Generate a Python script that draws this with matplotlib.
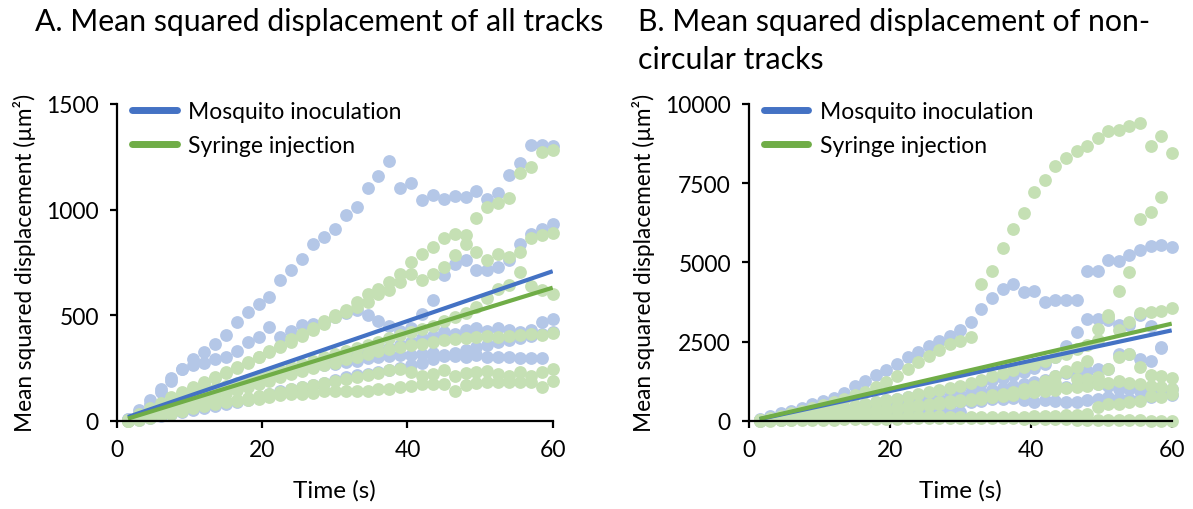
import matplotlib
matplotlib.use("Agg")
import matplotlib.pyplot as plt
import numpy as np

plt.rcParams['font.family'] = ['Lato', 'DejaVu Sans']

# time points (s), one MSD value every 1.5 s
time_s = np.arange(1, 41) * 1.5
nan = np.nan

# ---- panel A: all tracks (um^2) ----
mosq_a = [
    [5, 32, 79, 135, 190, 245, 293, 325, 364, 404, 467, 515, 554, 586, 665, 712, 768, 839, 871, 910,
     973, 1013, 1100, 1160, 1230, 1103, 1128, 1045, 1068, 1050, 1066, 1061, 1086, 1050, 1080, 1162, 1219, 1304, 1304, 1300],
    [10, 50, 100, 150, 200, 245, 265, 275, 290, 300, 332, 372, 396, 443, 396, 427, 451, 459, 467, 491,
     510, 522, 500, 470, 450, 425, 440, 505, 570, 689, 744, 760, 712, 712, 730, 760, 839, 886, 910, 934],
    [8, 25, 40, 55, 70, 85, 100, 115, 130, 150, 160, 175, 190, 205, 215, 230, 245, 255, 270, 290,
     300, 310, 320, 335, 345, 360, 375, 390, 400, 420, 410, 430, 440, 425, 440, 430, 420, 428, 467, 483],
    [5, 15, 30, 50, 70, 90, 105, 120, 135, 150, 165, 180, 190, 205, 220, 230, 245, 255, 262, 270,
     278, 285, 295, 300, 305, 310, 310, 315, 320, 310, 305, 300, 310, 300, 301, 300, 296, 298, 296, nan],
    [0, 5, 12, 20, 30, 40, 50, 60, 70, 80, 90, 100, 110, 125, 140, 150, 160, 170, 180, 195,
     205, 215, 222, 230, 240, 250, 262, 275, 290, 305, 320, 335, 350, 360, 375, 380, 390, 400, 410, 420],
]
syr_a = [
    [5, 30, 60, 85, 110, 135, 160, 185, 205, 230, 255, 280, 300, 330, 355, 385, 410, 440, 470, 499,
     522, 562, 601, 625, 657, 697, 752, 791, 823, 863, 886, 879, 960, 1013, 1029, 1053, 1171, 1203, 1274, 1282],
    [3, 25, 50, 75, 100, 125, 150, 175, 200, 225, 250, 275, 300, 325, 350, 375, 400, 430, 460, 490,
     515, 540, 562, 601, 617, 657, 697, 665, 697, 728, 783, 839, 800, 760, 790, 776, 800, 863, 879, 887],
    [0, 15, 35, 55, 75, 95, 115, 135, 150, 165, 180, 195, 210, 225, 240, 255, 270, 285, 300, 315,
     330, 345, 360, 375, 390, 405, 420, 435, 450, 470, 490, 510, 540, 580, 625, 641, 705, 640, 620, 601],
    [0, 10, 25, 40, 55, 70, 85, 100, 115, 130, 145, 160, 175, 190, 205, 220, 235, 250, 262, 275,
     290, 300, 315, 330, 340, 350, 360, 365, 375, 380, 385, 390, 395, 400, 395, 400, 405, 410, 405, 416],
    [0, 5, 15, 25, 32, 48, 64, 79, 90, 95, 95, 100, 103, 110, 120, 127, 127, 133, 143, 140,
     140, 143, 143, 150, 150, 158, 166, 174, 174, 174, 143, 170, 180, 182, 185, 182, 182, 182, 158, 190],
    [0, 8, 18, 28, 38, 48, 58, 68, 78, 88, 98, 108, 118, 128, 138, 148, 158, 168, 178, 188,
     198, 208, 218, 228, 240, 245, 230, 214, 222, 238, 214, 225, 230, 235, 220, 214, 230, 214, 230, 245],
]

# ---- panel B: non-circular tracks (um^2) ----
mosq_b = [
    [60, 150, 230, 300, 400, 520, 620, 720, 880, 1080, 1240, 1450, 1600, 1795, 2000, 2165, 2360, 2520, 2680, 2850,
     3114, 3513, 3874, 4168, 4327, 4064, 4096, 3747, 3798, 3798, 3798, 4716, 4716, 5064, 5030, 5222, 5380, 5519, 5538, 5487],
    [20, 60, 110, 160, 210, 260, 310, 360, 410, 460, 520, 580, 640, 700, 760, 820, 880, 940, 1000, 1060,
     1130, 1200, 1280, 1360, 1450, 1550, 1650, 1800, 2000, 2350, 2798, 3219, 3219, 3166, 3008, 3008, 3323, 3000, 2323, nan],
    [15, 45, 80, 120, 160, 200, 240, 280, 320, 360, 400, 440, 480, 520, 560, 600, 650, 700, 750, 800,
     860, 920, 980, 1040, 1100, 1160, 1220, 1300, 1400, 1500, 1420, 1580, 1636, 1636, 2111, 2111, 1953, 1900, 2290, nan],
    [10, 30, 60, 90, 120, 150, 180, 210, 240, 270, 300, 330, 360, 390, 420, 450, 480, 520, 560, 600,
     640, 680, 720, 760, 800, 850, 900, 950, 1000, 1050, 1100, 1150, 1162, 1108, 1003, 1003, 950, 980, 1003, 1003],
    [5, 20, 35, 50, 70, 90, 110, 130, 150, 170, 190, 215, 245, 275, 316, 316, 330, 370, 330, 266,
     590, 633, 686, 700, 720, 650, 600, 640, 620, 580, 600, 650, 700, 760, 720, 680, 700, 740, 780, 800],
]
syr_b = [
    [30, 90, 160, 240, 320, 410, 500, 600, 700, 810, 920, 1050, 1230, 1424, 1636, 1848, 2050, 2230, 2427, 2532,
     2640, 4327, 4716, 5456, 6067, 6574, 7207, 7596, 8051, 8283, 8514, 8685, 8916, 9147, 9178, 9318, 9390, 8685, 9001, 8441],
    [10, 40, 70, 100, 130, 160, 190, 220, 250, 280, 310, 340, 380, 420, 460, 500, 540, 580, 620, 660,
     700, 750, 800, 850, 900, 1000, 1100, 1250, 1400, 1550, 1700, 1900, 2902, 3272, 4083, 4697, 6384, 6596, 7071, nan],
    [20, 60, 110, 160, 210, 260, 310, 360, 410, 460, 520, 580, 640, 700, 760, 830, 900, 970, 1040, 1110,
     1200, 1300, 1400, 1500, 1600, 1700, 1800, 1900, 2000, 2100, 2250, 2400, 2550, 3323, 2850, 3114, 3409, 3430, 3450, 3557],
    [10, 30, 55, 80, 105, 130, 160, 190, 220, 250, 280, 310, 345, 380, 415, 450, 490, 530, 570, 610,
     660, 710, 760, 820, 880, 950, 1020, 1100, 1180, 1580, 1320, 1320, 1372, 1635, 2005, 2111, 1700, 1450, 1400, 1350],
    [0, 5, 10, 15, 20, 25, 30, 35, 40, 45, 50, 55, 60, 65, 70, 75, 80, 85, 90, 95,
     100, 105, 110, 115, 120, 130, 140, 150, 160, 170, 180, 200, 424, 528, 528, 580, 633, 790, 740, 845],
    [0, 10, 20, 30, 40, 50, 60, 70, 80, 90, 100, 110, 120, 130, 140, 150, 150, 140, 130, 120,
     110, 100, 90, 80, 70, 60, 50, 50, 40, 40, 30, 30, 20, 20, 10, 10, 10, 5, 5, 0],
    [10, 30, 55, 80, 110, 140, 170, 200, 230, 260, 290, 320, 350, 380, 420, 460, 500, 540, 580, 620,
     660, 700, 740, 780, 820, 860, 900, 940, 980, 1020, 1060, 1100, 1150, 1200, 1250, 1200, 1150, 1100, 1050, 1000],
]

# linear trendlines: (slope, intercept)
trend_a = {"Mosquito inoculation": (11.8, 0.0), "Syringe injection": (10.6, -6.0)}
trend_b = {"Mosquito inoculation": (47.9, -22.0), "Syringe injection": (51.4, -20.0)}

C_MOSQ_DOT = "#B4C7E7"
C_SYR_DOT = "#C5E0B4"
C_MOSQ = "#4472C4"
C_SYR = "#70AD47"

fig = plt.figure(figsize=(11.93, 5.10), dpi=100)
W, H = 1193, 510
axA = fig.add_axes([117 / W, (H - 421.7) / H, 435.7 / W, 316.7 / H])
axB = fig.add_axes([749 / W, (H - 421.7) / H, 422.7 / W, 316.7 / H])


def draw(ax, mosq, syr, trend, ymax, yticks):
    for tr in mosq:
        ax.scatter(time_s, tr, s=85, color=C_MOSQ_DOT, linewidths=0, zorder=2, clip_on=False)
    for tr in syr:
        ax.scatter(time_s, tr, s=85, color=C_SYR_DOT, linewidths=0, zorder=3, clip_on=False)
    tt = np.array([1.5, 60.0])
    for name, col in [("Mosquito inoculation", C_MOSQ), ("Syringe injection", C_SYR)]:
        m, b = trend[name]
        ax.plot(tt, m * tt + b, color=col, lw=3, zorder=4, label=name,
                solid_capstyle='butt')
    ax.set_xlim(0, 60)
    ax.set_ylim(0, ymax)
    ax.set_xticks([0, 20, 40, 60])
    ax.set_yticks(yticks)
    for s in ["top", "right"]:
        ax.spines[s].set_visible(False)
    for s in ["left", "bottom"]:
        ax.spines[s].set_linewidth(1.6)
        ax.spines[s].set_color("black")
        ax.spines[s].set_zorder(5)
    ax.tick_params(direction="out", length=5, width=1.6, labelsize=16.5, pad=8)
    ax.set_xlabel("Time (s)", fontsize=17.5, labelpad=14)
    ax.set_ylabel("Mean squared displacement (\u00b5m\u00b2)", fontsize=16.3, labelpad=7)
    leg = ax.legend(loc="upper left", bbox_to_anchor=(0.035, 1.008), frameon=False,
                    fontsize=16.5, handlelength=1.95, handletextpad=0.5,
                    labelspacing=0.55, borderpad=0, borderaxespad=0)
    for ln in leg.get_lines():
        ln.set_linewidth(5)
        ln.set_solid_capstyle('round')


draw(axA, mosq_a, syr_a, trend_a, 1500, [0, 500, 1000, 1500])
draw(axB, mosq_b, syr_b, trend_b, 10000, [0, 2500, 5000, 7500, 10000])

fig.text(35 / W, 1 - 22 / H, "A. Mean squared displacement of all tracks",
         fontsize=21.8, va="center", ha="left")
fig.text(638 / W, 1 - 22 / H, "B. Mean squared displacement of non-",
         fontsize=21.8, va="center", ha="left")
fig.text(638 / W, 1 - 60 / H, "circular tracks",
         fontsize=21.8, va="center", ha="left")

fig.savefig("out.png", dpi=100)
